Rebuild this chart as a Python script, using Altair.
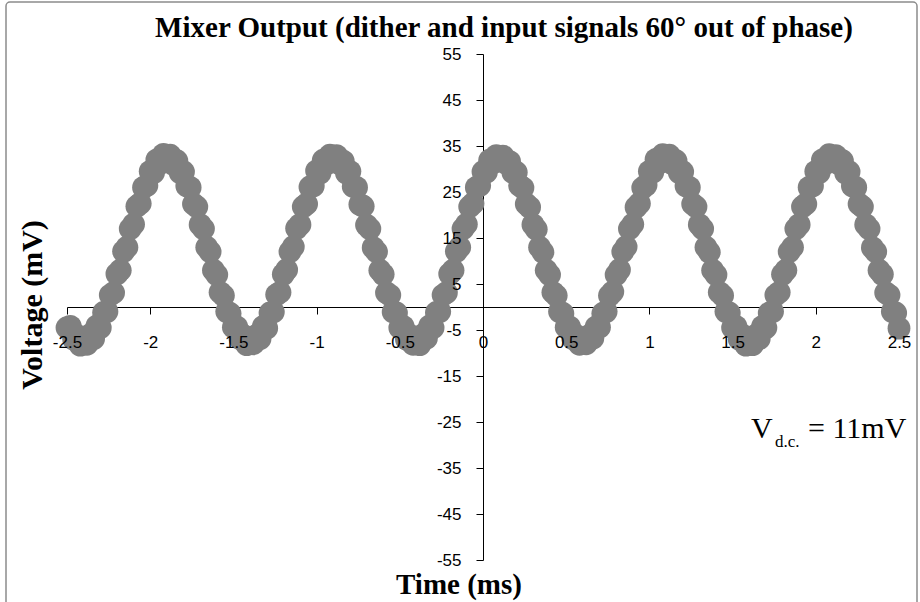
import altair as alt
import pandas as pd

# ---- data (time in ms, voltage in mV), 0.02 ms sample spacing ----
t_start = -2.5
t_step = 0.02
voltage_mv = [
    -4.5, -4.2, -7.0, -6.2, -8.3, -6.9, -8.1, -6.0, -6.9, -4.1,
    -4.5, -1.2, -1.0, 2.6, 3.1, 7.2, 8.0, 12.1, 13.0, 17.0,
    18.0, 21.9, 22.5, 26.0, 26.4, 29.5, 29.2, 32.0, 31.2, 33.2,
    31.8, 33.0, 31.0, 31.8, 29.2, 29.4, 26.3, 26.0, 22.4, 21.8,
    17.9, 17.0, 13.0, 12.0, 8.0, 7.0, 3.2, 2.5, -1.0, -1.4,
    -4.4, -4.3, -6.9, -6.2, -8.2, -6.8, -8.0, -6.1, -6.9, -4.2,
    -4.6, -1.3, -1.1, 2.7, 3.2, 7.1, 8.1, 12.0, 13.1, 17.1,
    17.9, 21.8, 22.4, 26.1, 26.3, 29.6, 29.1, 31.9, 31.1, 33.0,
    31.7, 32.9, 31.1, 31.7, 29.1, 29.5, 26.2, 26.0, 22.3, 21.9,
    17.8, 17.0, 12.9, 12.0, 8.0, 7.1, 3.1, 2.6, -1.1, -1.3,
    -4.5, -4.2, -7.0, -6.1, -8.1, -6.8, -8.2, -6.0, -6.8, -4.1,
    -4.5, -1.2, -1.0, 2.6, 3.1, 7.2, 8.0, 12.1, 13.0, 17.0,
    18.0, 21.8, 22.5, 26.0, 26.4, 29.4, 29.3, 31.9, 31.3, 32.9,
    31.8, 32.8, 31.2, 31.6, 29.2, 29.3, 26.4, 25.9, 22.4, 21.7,
    17.9, 16.9, 13.0, 11.9, 8.0, 7.0, 3.2, 2.5, -1.0, -1.4,
    -4.4, -4.3, -6.9, -6.2, -8.1, -6.9, -8.0, -6.2, -6.8, -4.3,
    -4.4, -1.4, -1.0, 2.5, 3.3, 7.0, 8.1, 12.0, 13.1, 17.0,
    18.0, 21.7, 22.5, 25.9, 26.5, 29.5, 29.3, 32.1, 31.3, 33.1,
    31.9, 33.0, 31.1, 31.8, 29.2, 29.4, 26.3, 26.0, 22.4, 21.8,
    17.9, 17.0, 13.0, 11.9, 8.0, 7.0, 3.2, 2.5, -1.0, -1.3,
    -4.5, -4.2, -7.0, -6.1, -8.3, -6.9, -8.2, -6.1, -6.9, -4.2,
    -4.5, -1.3, -1.0, 2.6, 3.2, 7.1, 8.0, 12.0, 13.0, 17.0,
    17.9, 21.8, 22.4, 26.0, 26.3, 29.5, 29.2, 32.0, 31.2, 33.1,
    31.8, 32.9, 31.1, 31.8, 29.1, 29.4, 26.3, 26.0, 22.4, 21.8,
    17.9, 17.0, 12.9, 12.0, 8.0, 7.1, 3.1, 2.6, -1.0, -1.3,
    -4.6,
]
time_ms = [round(t_start + t_step * i, 2) for i in range(len(voltage_mv))]

x_ticks = [-2.5, -2, -1.5, -1, -0.5, 0, 0.5, 1, 1.5, 2, 2.5]
y_ticks = [-55, -45, -35, -25, -15, -5, 5, 15, 25, 35, 45, 55]

title_text = "Mixer Output (dither and input signals 60° out of phase)"
x_title = "Time (ms)"
y_title = "Voltage (mV)"
note_main = "V"
note_sub = "d.c."
note_rest = "= 11mV"

df = pd.DataFrame({"t": time_ms, "v": voltage_mv})

W, H = 832, 506
SERIF = "Liberation Serif"
SANS = "Liberation Sans"

x_scale = alt.Scale(domain=[-2.5, 2.5], nice=False, zero=False)
y_scale = alt.Scale(domain=[-55, 55], nice=False, zero=False)

# axis lines + ticks (behind the data)
line_axis = dict(title=None, grid=False, domainColor="black", tickColor="black",
                 domainWidth=1, tickWidth=1, tickSize=7, labels=False, zindex=0)
# tick labels (in front of the data)
label_axis = dict(title=None, grid=False, domain=False, ticks=False, labelFont=SANS,
                  labelFontSize=17, labelColor="black", labelExpr="'' + datum.value",
                  labelFlush=False, labelOverlap=False, zindex=2)

points = alt.Chart(df).mark_circle(size=520, color="#808080", opacity=1).encode(
    x=alt.X("t:Q", scale=x_scale,
            axis=alt.Axis(values=x_ticks, orient="bottom", offset=-H / 2, **line_axis)),
    y=alt.Y("v:Q", scale=y_scale,
            axis=alt.Axis(values=y_ticks, orient="left", offset=-W / 2, **line_axis)),
)

labels = alt.Chart(df).mark_circle(size=1, opacity=0).encode(
    x=alt.X("t:Q", scale=x_scale,
            axis=alt.Axis(values=x_ticks, orient="bottom", offset=-H / 2,
                          labelPadding=27, **label_axis)),
    y=alt.Y("v:Q", scale=y_scale,
            axis=alt.Axis(values=y_ticks, orient="left", offset=-W / 2,
                          labelPadding=22, **label_axis)),
)

one = alt.Data(values=[{}])


def txt(text, x, y, size, bold=False, font=SERIF, angle=0, align="center", baseline="alphabetic"):
    kw = dict(text=text, font=font, fontSize=size, color="black", align=align, baseline=baseline)
    if bold:
        kw["fontWeight"] = "bold"
    if angle:
        kw["angle"] = angle
    return alt.Chart(one).mark_text(**kw).encode(x=alt.value(x), y=alt.value(y))


title = txt(title_text, 437, -17, 29, bold=True)
xt = txt(x_title, 392, 540, 29, bold=True)
yt = txt(y_title, -34, 251, 30, bold=True, angle=270, baseline="middle")
n1 = txt(note_main, 684, 384, 30, align="left")
n2 = txt(note_sub, 708, 393, 17, align="left")
n3 = txt(note_rest, 741, 384, 30, align="left")

# outer chart frame (left and top edges visible, the rest runs off the picture)
frame = alt.Chart(one).mark_rect(
    fill="transparent", stroke="#8c8c8c", strokeWidth=1.5, cornerRadius=4
).encode(x=alt.value(-61), x2=alt.value(850), y=alt.value(-52), y2=alt.value(580))

chart = alt.layer(frame, points, labels, title, xt, yt, n1, n2, n3).resolve_axis(
    x="independent", y="independent"
).properties(
    width=W, height=H,
    background="white",
    autosize=alt.AutoSizeParams(type="none"),
    padding={"left": 67, "top": 54, "right": 21, "bottom": 42},
).configure(
    view=alt.ViewConfig(strokeWidth=0, strokeOpacity=0, stroke="transparent"),
    style={"cell": {"stroke": "transparent", "strokeWidth": 0}},
    axis=alt.AxisConfig(grid=False),
)

chart.save("out.html", embed_options={"renderer": "svg", "actions": False})
